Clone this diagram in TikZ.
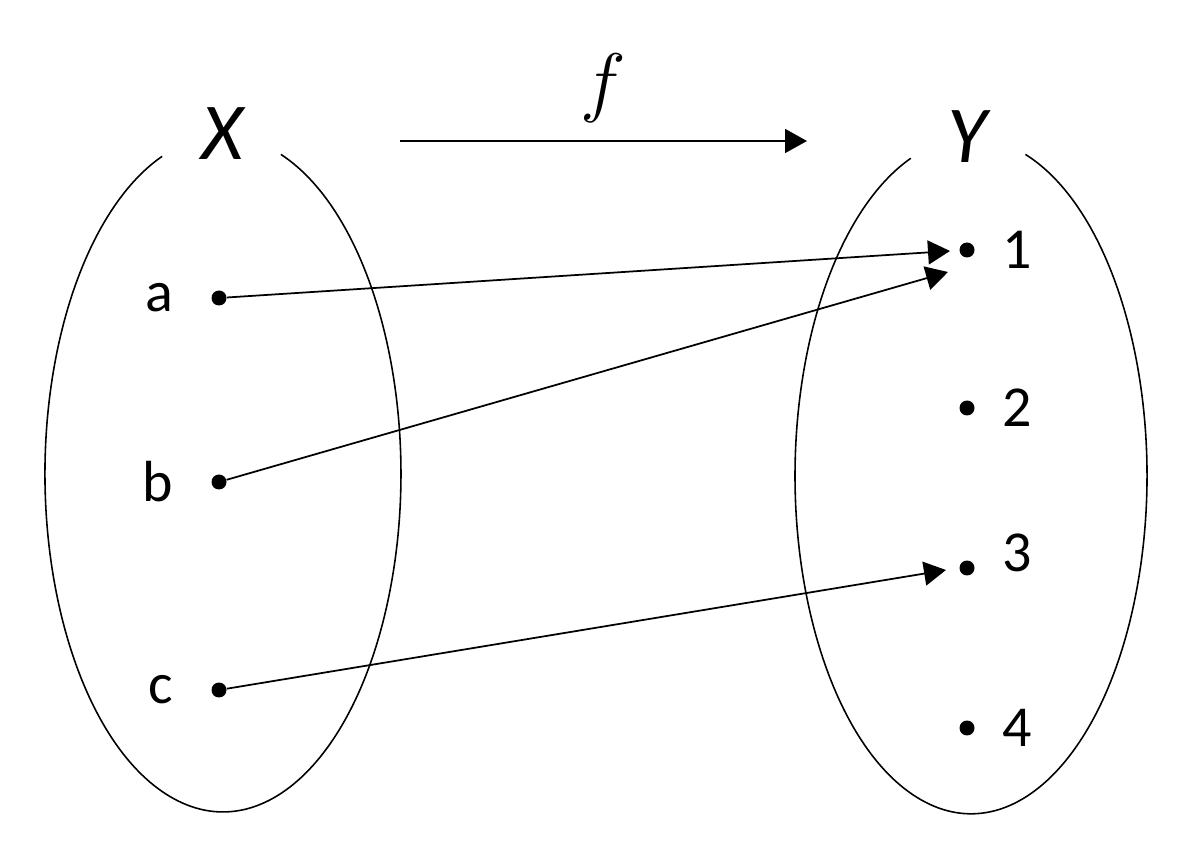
\RequirePackage{fix-cm}
\documentclass[tikz,border=0pt]{standalone}
\usepackage{fontspec}
\setmainfont{Carlito}
\usetikzlibrary{arrows.meta,positioning,calc}

\begin{document}
\begin{tikzpicture}[
  x=0.02cm, y=0.02cm,
  >={Triangle[length=4.4mm, width=4.8mm]},
  node distance=7.5mm,
  dot/.style={circle, fill=black, inner sep=0pt, minimum size=3mm},
  elem/.style={font=\fontsize{33}{38}\selectfont, inner sep=0pt},
  setname/.style={font=\fontsize{46}{52}\selectfont\itshape, inner sep=0pt},
  rim/.style={line width=0.9pt},
  map/.style={->, line width=1pt},
]
\useasboundingbox (0,0) rectangle (1204,-854);

% ---- the two sets ----------------------------------------------------------
\draw[rim] (280.9,-154.4) arc[start angle=71, end angle=-250,
      x radius=3.56cm, y radius=6.76cm];
\draw[rim] (1025.4,-154.4) arc[start angle=72, end angle=-250,
      x radius=3.52cm, y radius=6.76cm];

\node[setname] (X) at (222,-134) {X};
\node[setname] (Y) at (967,-137) {Y};

% ---- elements of X ----------------------------------------------------------
\node[dot] (a) at (219,-298) {};
\node[dot] (b) at (219,-482) {};
\node[dot] (c) at (219,-690) {};
\foreach \e in {a,b,c}
  \node[elem, left=of \e] (l\e) {\e};

% ---- elements of Y ----------------------------------------------------------
\node[dot] (y1) at (967,-250) {};
\node[dot] (y2) at (967,-408) {};
\node[dot] (y3) at (967,-568) {};
\node[dot] (y4) at (967,-728) {};
\foreach \n in {1,2,4}
  \node[elem, right=5.5mm of y\n] (l\n) {\n};
\node[elem, right=5.5mm of y3, yshift=3mm] (l3) {3};

% ---- the mapping ------------------------------------------------------------
\coordinate (fstart) at (400,-141);
\coordinate (fend)   at (807,-141);
\draw[map] (fstart) -- node[above=3.5mm, font=\fontsize{44}{50}\selectfont,
      inner sep=0pt] (f) {$f$} (fend);

% arrow tips stop short of the targets
\coordinate (ta) at ($(y1)+(-17,-1)$);
\coordinate (tb) at ($(y1)+(-19,-22)$);
\coordinate (tc) at ($(y3)+(-21,-2)$);
\draw[map] (a) -- (ta);
\draw[map] (b) -- (tb);
\draw[map] (c) -- (tc);
\end{tikzpicture}
\end{document}
